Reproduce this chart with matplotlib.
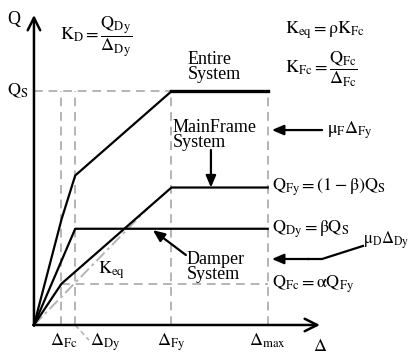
import numpy as np
import matplotlib
matplotlib.use('Agg')
import matplotlib.pyplot as plt

plt.rcParams['font.family'] = ['Liberation Serif', 'DejaVu Serif']
plt.rcParams['mathtext.fontset'] = 'stix'

# key displacements and forces (normalised, Delta_Fy = Q_Fy = 1)
d_fc = 0.2
d_dy = 0.3
d_fy = 1.0
d_max = 1.7
q_fc = 0.3
q_dy = 0.7
q_fy = 1.0
d_keq = 0.83   # where the secant K_eq meets the main frame curve

# piecewise curves
main_d = [0, d_fc, d_fy, d_max]
main_q = [0, q_fc, q_fy, q_fy]
damp_d = [0, d_dy, d_max]
damp_q = [0, q_dy, q_dy]
ent_d = np.array([0, d_fc, d_dy, d_fy, d_max])
ent_q = np.interp(ent_d, main_d, main_q) + np.interp(ent_d, damp_d, damp_q)
q_s = ent_q[-1]
q_keq = np.interp(d_keq, main_d, main_q)

fig = plt.figure(figsize=(4.11, 3.54), dpi=100)
ax = fig.add_axes([0, 0, 1, 1])
ax.set_xlim(-0.247, 2.742)
ax.set_ylim(-0.211, 2.364)
ax.axis('off')

grey = '#b4b4b4'
dash = dict(color=grey, lw=1.4, ls=(0, (4.5, 3)))

# guide lines
ax.plot([0, d_max], [q_s, q_s], **dash)
for d in [d_fc, d_dy, d_fy, d_max]:
    ax.plot([d, d], [0, q_s], **dash)
ax.plot([d_fc, d_max], [q_fc, q_fc], **dash)
ax.plot([0, d_keq], [0, q_keq], color=grey, lw=1.4, ls=(0, (6, 2, 1.5, 2)))
ax.plot([d_dy, d_dy + 0.1], [0, -0.11], color=grey, lw=1.2, ls=(0, (3, 2)))

# curves
ax.plot(main_d, main_q, color='black', lw=1.6)
ax.plot(damp_d, damp_q, color='black', lw=1.6)
ax.plot(ent_d, ent_q, color='black', lw=1.6)
ax.plot(ent_d[-2:], ent_q[-2:], color='black', lw=2.4)

# axes with open arrows
ax.annotate('', xy=(2.08, 0), xytext=(-0.005, 0),
            arrowprops=dict(arrowstyle='->,head_length=0.9,head_width=0.45', lw=1.8, color='black',
                            shrinkA=0, shrinkB=0))
ax.annotate('', xy=(0, 2.255), xytext=(0, -0.005),
            arrowprops=dict(arrowstyle='->,head_length=0.9,head_width=0.45', lw=1.8, color='black',
                            shrinkA=0, shrinkB=0))

fs = 13
ax.text(-0.145, 2.22, 'Q', fontsize=fs, ha='center', va='center')
ax.text(-0.04, q_s, r'$\mathrm{Q_S}$', fontsize=fs, ha='right', va='center')
ax.text(2.08, -0.155, r'$\Delta$', fontsize=fs, ha='center', va='center')
ax.text(d_fc + 0.015, -0.05, r'$\Delta_{\mathrm{Fc}}$', fontsize=fs, ha='center', va='top')
ax.text(d_dy + 0.215, -0.05, r'$\Delta_{\mathrm{Dy}}$', fontsize=fs, ha='center', va='top')
ax.text(d_fy, -0.05, r'$\Delta_{\mathrm{Fy}}$', fontsize=fs, ha='center', va='top')
ax.text(d_max, -0.045, r'$\Delta_{\mathrm{max}}$', fontsize=fs, ha='center', va='top')

ax.text(0.45, 2.10, r'$\mathrm{K_D} = \dfrac{\mathrm{Q_{Dy}}}{\Delta_{\mathrm{Dy}}}$', fontsize=fs,
        ha='center', va='center')
ax.text(1.825, 2.145, r'$\mathrm{K_{eq}} = \mathrm{ρ}\mathrm{K_{Fc}}$', fontsize=fs, ha='left', va='center')
ax.text(1.825, 1.862, r'$\mathrm{K_{Fc}} = \dfrac{\mathrm{Q_{Fc}}}{\Delta_{\mathrm{Fc}}}$', fontsize=fs,
        ha='left', va='center')
ax.text(0.567, 0.40, r'$\mathrm{K_{eq}}$', fontsize=fs, ha='center', va='center')

ax.text(1.12, 1.876, 'Entire\nSystem', fontsize=fs, ha='left', va='center', linespacing=0.8)
ax.text(1.011, 1.382, 'MainFrame\nSystem', fontsize=fs, ha='left', va='center', linespacing=0.8)
ax.text(1.113, 0.422, 'Damper\nSystem', fontsize=fs, ha='left', va='center', linespacing=0.8)

ax.text(d_max + 0.03, q_fy, r'$\mathrm{Q_{Fy}} = (1-\mathrm{β})\mathrm{Q_S}$', fontsize=fs,
        ha='left', va='center')
ax.text(d_max + 0.03, q_dy, r'$\mathrm{Q_{Dy}} = \mathrm{β}\mathrm{Q_S}$', fontsize=fs, ha='left', va='center')
ax.text(d_max + 0.03, q_fc, r'$\mathrm{Q_{Fc}} = \mathrm{α}\mathrm{Q_{Fy}}$', fontsize=fs,
        ha='left', va='center')
ax.text(2.13, 1.418, r'$\mathrm{μ_F}\Delta_{\mathrm{Fy}}$', fontsize=fs, ha='left', va='center')
ax.text(2.395, 0.618, r'$\mathrm{μ_D}\Delta_{\mathrm{Dy}}$', fontsize=12, ha='left', va='center')

arrow = dict(arrowstyle='-|>,head_length=0.7,head_width=0.3', lw=1.6, color='black',
             shrinkA=0, shrinkB=0)
ax.annotate('', xy=(1.287, q_fy), xytext=(1.287, 1.273), arrowprops=arrow)
ax.annotate('', xy=(0.865, q_dy - 0.01), xytext=(1.105, 0.509), arrowprops=arrow)
ax.annotate('', xy=(d_max + 0.03, 1.418), xytext=(2.095, 1.418), arrowprops=arrow)
ax.plot([2.393, 2.095, 2.0], [0.575, 0.48, 0.48], color='black', lw=1.6)
ax.annotate('', xy=(d_max + 0.03, 0.48), xytext=(2.0, 0.48), arrowprops=arrow)

fig.savefig('out.png', dpi=100)
